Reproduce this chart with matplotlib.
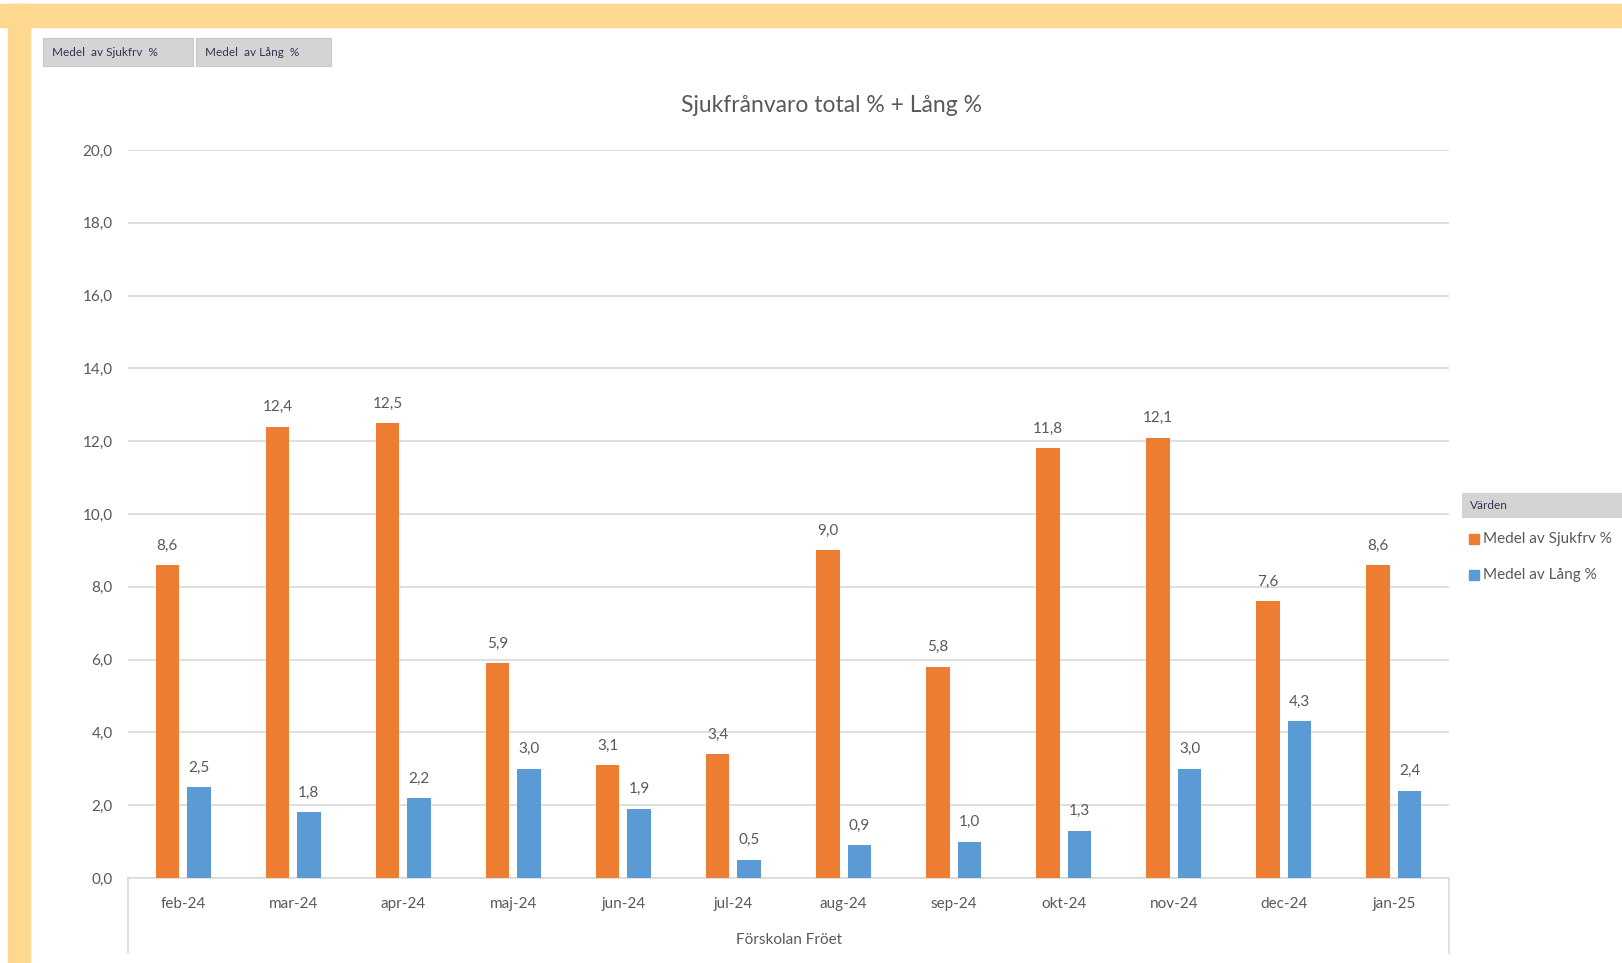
import numpy as np
import matplotlib.pyplot as plt
from matplotlib.patches import Rectangle
from matplotlib.lines import Line2D

plt.rcParams['font.family'] = ['Lato', 'DejaVu Sans']

months = ["feb-24", "mar-24", "apr-24", "maj-24", "jun-24", "jul-24",
          "aug-24", "sep-24", "okt-24", "nov-24", "dec-24", "jan-25"]
sjukfrv = [8.6, 12.4, 12.5, 5.9, 3.1, 3.4, 9.0, 5.8, 11.8, 12.1, 7.6, 8.6]
lang = [2.5, 1.8, 2.2, 3.0, 1.9, 0.5, 0.9, 1.0, 1.3, 3.0, 4.3, 2.4]
yticks = [0, 2, 4, 6, 8, 10, 12, 14, 16, 18, 20]
group_label = "Förskolan Fröet"
title = "Sjukfrånvaro total % + Lång %"
series_names = ["Medel av Sjukfrv %", "Medel av Lång %"]

ORANGE = "#ED7D31"
BLUE = "#5B9BD5"
TEXT = "#595959"
GRID = "#D9D9D9"
BORDER = "#FED88F"

W, H = 1622, 963
fig = plt.figure(figsize=(W / 100, H / 100), dpi=100)


def px(x, y):
    return x / W, 1 - y / H


# orange frame (top and left)
fig.patches.append(Rectangle(px(0, 27), 1, 23 / H, transform=fig.transFigure,
                             color=BORDER, zorder=0))
fig.patches.append(Rectangle(px(8, 963), 22 / W, 1 - 4 / H, transform=fig.transFigure,
                             color=BORDER, zorder=0))

# pivot field buttons
for (x0, x1), name in zip([(43, 193), (196, 331)], ["Medel  av Sjukfrv  %", "Medel  av Lång  %"]):
    fig.patches.append(Rectangle(px(x0, 66), (x1 - x0) / W, 28 / H,
                                 transform=fig.transFigure, facecolor="#D4D4D4",
                                 edgecolor="#C8C8C8", lw=0.8, zorder=1))
    fig.text((x0 + 9) / W, 1 - 52 / H, name, fontsize=8.5, color="#333355",
             va="center", ha="left")

ax = fig.add_axes([128 / W, 1 - 878 / H, (1449 - 128) / W, (878 - 150) / H])
x = np.arange(len(months))
bw = 0.214
off = 0.143
b1 = ax.bar(x - off, sjukfrv, bw, color=ORANGE, zorder=3)
b2 = ax.bar(x + off, lang, bw, color=BLUE, zorder=3)

for bars, vals in [(b1, sjukfrv), (b2, lang)]:
    for rect, v in zip(bars, vals):
        ax.annotate(f"{v:.1f}".replace(".", ","),
                    (rect.get_x() + rect.get_width() / 2, v),
                    xytext=(0, 9), textcoords="offset points",
                    ha="center", va="bottom", fontsize=11, color=TEXT)

ax.set_xlim(-0.5, len(months) - 0.5)
ax.set_ylim(0, 20)
ax.set_yticks(yticks)
ax.set_yticklabels([f"{t:.1f}".replace(".", ",") for t in yticks])
ax.set_xticks(x)
ax.set_xticklabels(months)
ax.tick_params(axis="both", length=0, labelsize=11, colors=TEXT)
ax.tick_params(axis="x", pad=14)
ax.tick_params(axis="y", pad=11)
ax.yaxis.grid(True, color=GRID, lw=1.2, zorder=0)
for s in ["top", "right", "left"]:
    ax.spines[s].set_visible(False)
ax.spines["bottom"].set_color(GRID)
ax.spines["bottom"].set_linewidth(1.2)

# category box lines below axis
for xx in [128, 1449]:
    fig.add_artist(Line2D([xx / W, xx / W], [1 - 878 / H, 1 - 953 / H],
                          transform=fig.transFigure, color=GRID, lw=1.2))
fig.text(((128 + 1449) / 2) / W, 1 - 940 / H, group_label, ha="center", va="center",
         fontsize=11, color=TEXT)

fig.text(831 / W, 1 - 106 / H, title, ha="center", va="center", fontsize=16.5, color=TEXT)

# legend
fig.patches.append(Rectangle(px(1462, 518), (1622 - 1462) / W, 25 / H,
                             transform=fig.transFigure, facecolor="#D4D4D4",
                             edgecolor="none", zorder=1))
fig.text(1470 / W, 1 - 505 / H, "Värden", fontsize=8.5, color="#333355", va="center")
for yy, col, name in [(539, ORANGE, series_names[0]), (575, BLUE, series_names[1])]:
    fig.patches.append(Rectangle(px(1469, yy + 5), 10 / W, 10 / H,
                                 transform=fig.transFigure, color=col))
    fig.text(1483 / W, 1 - yy / H, name, fontsize=11, color=TEXT, va="center")

fig.savefig("out.png", dpi=100, facecolor="white")
